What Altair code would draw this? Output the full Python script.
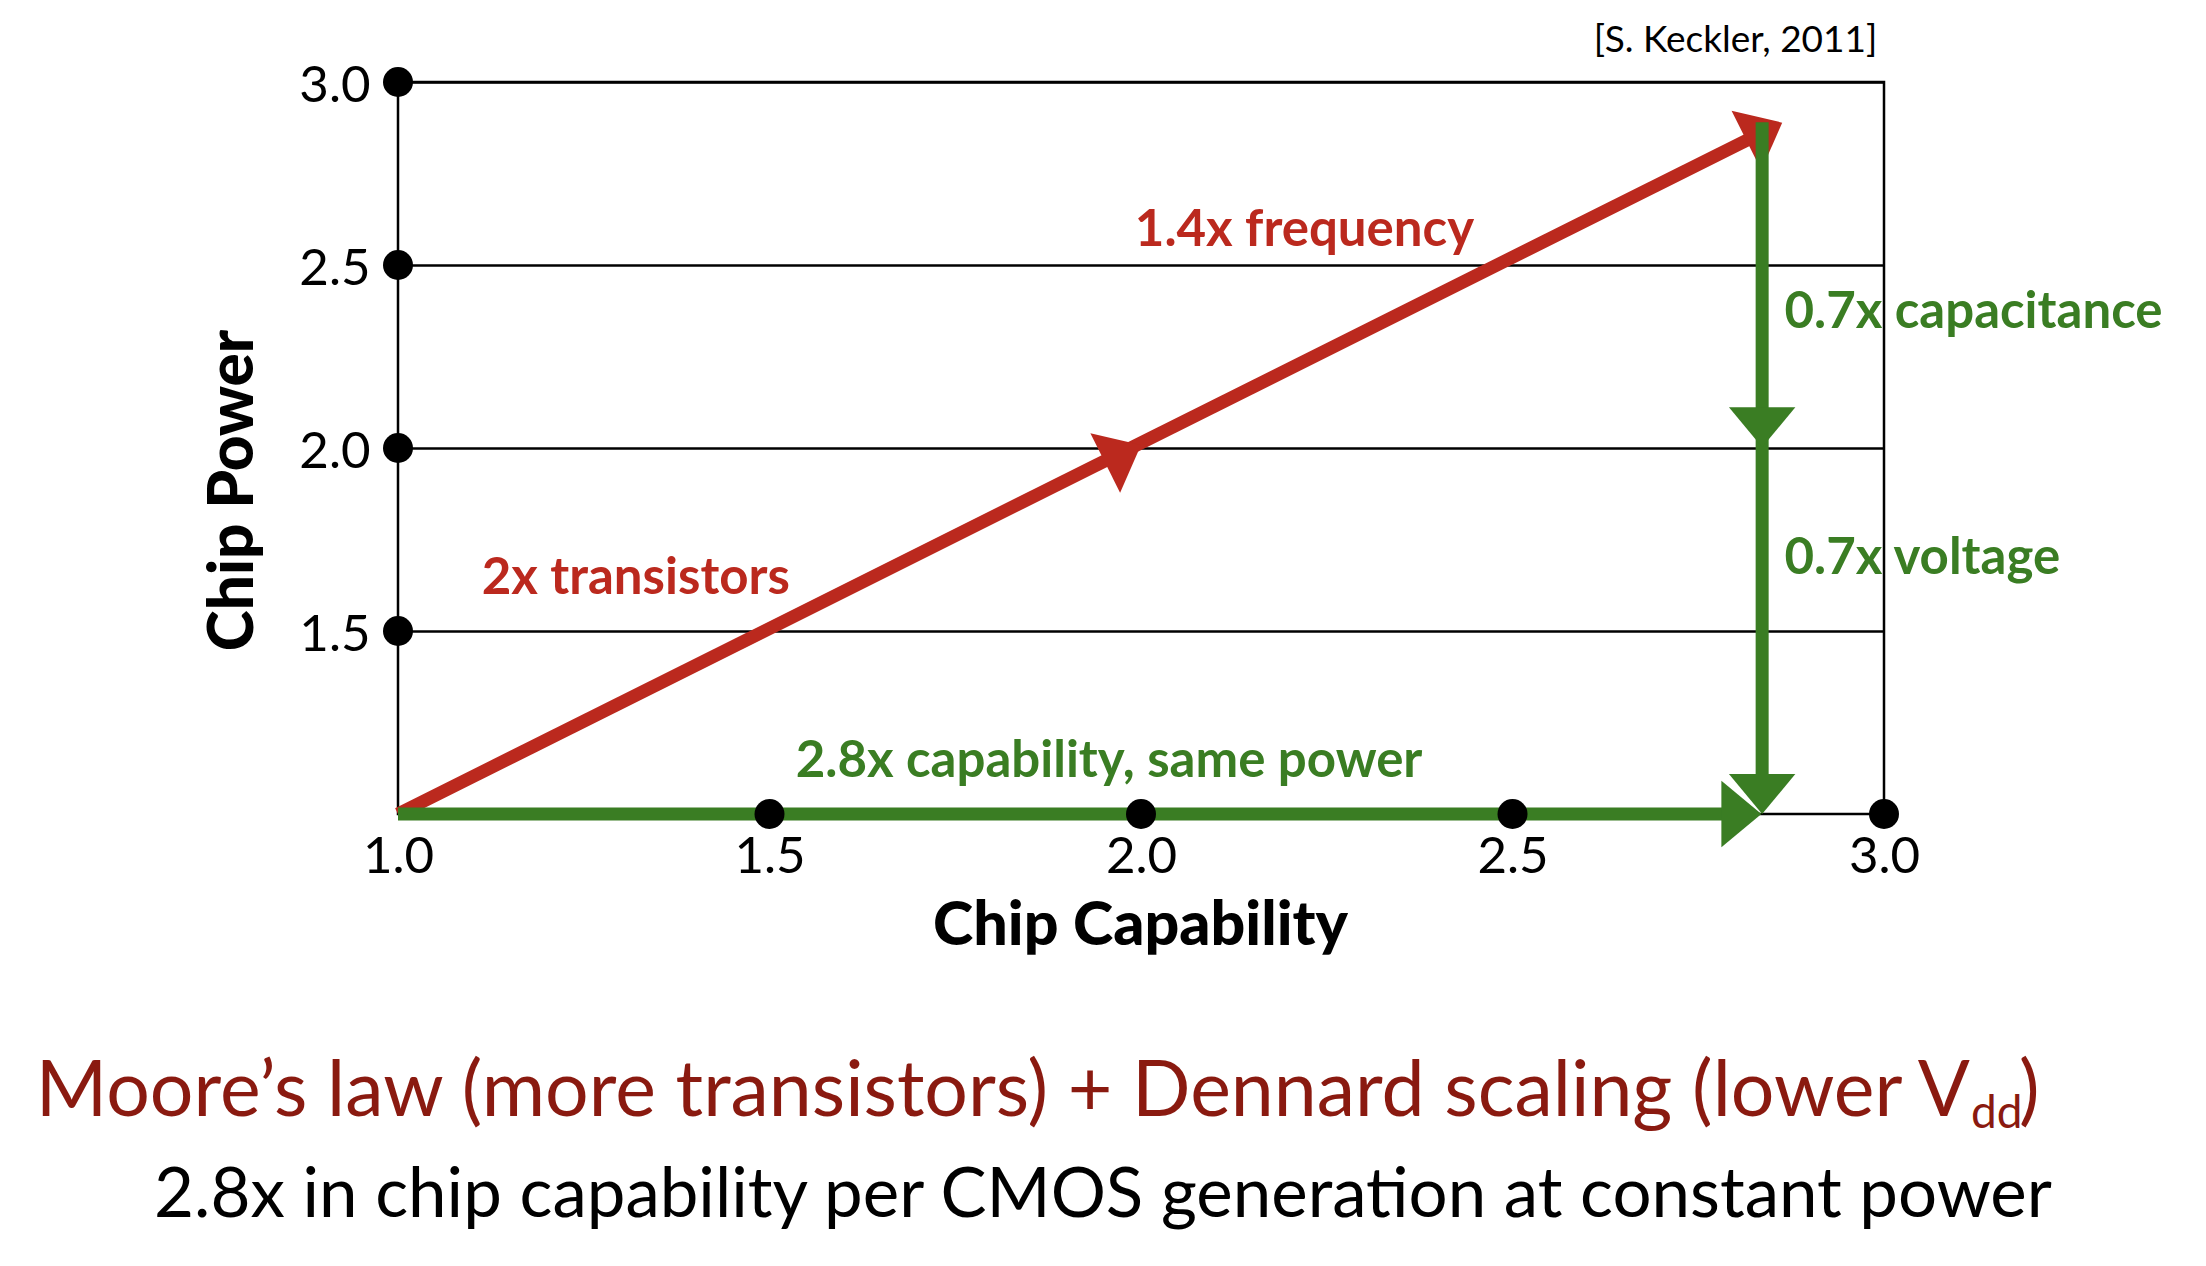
import altair as alt
import pandas as pd

# ---------------- data ----------------
x_tick_values = [1.0, 1.5, 2.0, 2.5, 3.0]
y_tick_values = [1.5, 2.0, 2.5, 3.0]

dot_x = [1.0, 1.0, 1.0, 1.0, 1.5, 2.0, 2.5, 3.0]
dot_y = [1.5, 2.0, 2.5, 3.0, 1.0, 1.0, 1.0, 1.0]

red_line_x = [1.0, 2.845]
red_line_y = [1.0, 2.871]
red_head_x = [2.0, 2.863]
red_head_y = [2.008, 2.889]

green_v_x = [2.836, 2.836]
green_v_y = [2.890, 1.041]
green_h_x = [1.0, 2.815]
green_h_y = [1.0, 1.0]
green_down_x = [2.836, 2.836]
green_down_y = [2.002, 1.0]
green_right_x = [2.835]
green_right_y = [1.0]

center_labels = ["1.4x frequency", "2x transistors", "2.8x capability, same power"]
center_label_x = [2.220, 1.320, 1.957]
center_label_y = [2.551, 1.601, 1.101]
center_label_color = ["red", "red", "green"]

left_labels = ["0.7x capacitance", "0.7x voltage"]
left_label_x = [2.866, 2.866]
left_label_y = [2.327, 1.655]

source_text = ["[S. Keckler, 2011]"]
source_x = [2.991]
source_y = [3.081]

title_main = "Moore\u2019s law (more transistors) + Dennard scaling (lower V"
title_sub = "dd"
title_close = ")"
subtitle = "2.8x in chip capability per CMOS generation at constant power"

# ---------------- style ----------------
RED = "#BB291E"
GREEN = "#3A7D23"
DARKRED = "#8A1A10"
FONT = "Lato"
W, H = 1486, 732
PAD_L, PAD_T = 398, 82
ARROW = "M0,0L-1,-0.83L-1,0.83Z"

xs = alt.Scale(domain=[1, 3], nice=False, zero=False)
ys = alt.Scale(domain=[1, 3], nice=False, zero=False)
color_scale = alt.Scale(domain=["red", "green"], range=[RED, GREEN])

x_axis = alt.Axis(
    values=x_tick_values, format=".1f", grid=False, domain=False, ticks=False,
    tickSize=0, labelFont=FONT, labelFontSize=51, labelColor="black",
    labelPadding=58, labelBaseline="alphabetic", labelFlush=False,
    labelAlign="center", labelOverlap=False,
    title="Chip Capability", titleFont=FONT, titleFontSize=61,
    titleFontWeight=900, titleColor="black", titleX=742, titleY=130,
    titleAlign="center", titleBaseline="alphabetic")
y_axis = alt.Axis(
    values=y_tick_values, format=".1f", grid=True, gridColor="black",
    gridWidth=2.5, gridOpacity=1, domain=False, ticks=False, tickSize=0,
    labelFont=FONT, labelFontSize=51, labelColor="black", labelPadding=28,
    labelBaseline="middle", labelFlush=False, labelOverlap=False, labelOffset=4,
    title="Chip Power", titleFont=FONT, titleFontSize=62,
    titleFontWeight=900, titleColor="black", titleX=-146, titleY=408,
    titleAngle=270, titleAlign="center", titleBaseline="alphabetic")

X = alt.X("x:Q", scale=xs, axis=x_axis)
Y = alt.Y("y:Q", scale=ys, axis=y_axis)

# ---------------- layers ----------------
dots_df = pd.DataFrame({"x": dot_x, "y": dot_y})


def seg(xv, yv, color):
    df = pd.DataFrame({"x": xv, "y": yv, "o": list(range(len(xv)))})
    return alt.Chart(df).mark_line(color=color, strokeWidth=13, strokeCap="butt").encode(
        x=X, y=Y, order="o:O")


def heads(xv, yv, color, angle):
    df = pd.DataFrame({"x": xv, "y": yv})
    return alt.Chart(df).mark_point(
        shape=ARROW, filled=True, opacity=1, color=color, size=6400, angle=angle,
        strokeWidth=0,
    ).encode(x=X, y=Y)


red_line = seg(red_line_x, red_line_y, RED)
red_heads = heads(red_head_x, red_head_y, RED, 333.4)
green_v = seg(green_v_x, green_v_y, GREEN)
green_h = seg(green_h_x, green_h_y, GREEN)
green_right = heads(green_right_x, green_right_y, GREEN, 0)
green_down = heads(green_down_x, green_down_y, GREEN, 90)

dots = alt.Chart(dots_df).mark_circle(color="black", size=900, opacity=1).encode(x=X, y=Y)

center_df = pd.DataFrame({"t": center_labels, "x": center_label_x,
                          "y": center_label_y, "c": center_label_color})
center_text = alt.Chart(center_df).mark_text(
    font=FONT, fontSize=51, fontWeight="bold", align="center", baseline="alphabetic"
).encode(x=X, y=Y, text="t:N",
         color=alt.Color("c:N", scale=color_scale, legend=None))

left_df = pd.DataFrame({"t": left_labels, "x": left_label_x, "y": left_label_y})
left_text = alt.Chart(left_df).mark_text(
    font=FONT, fontSize=51, fontWeight="bold", align="left", baseline="alphabetic",
    color=GREEN,
).encode(x=X, y=Y, text="t:N")

source_df = pd.DataFrame({"t": source_text, "x": source_x, "y": source_y})
source = alt.Chart(source_df).mark_text(
    font=FONT, fontSize=37, align="right", baseline="alphabetic", color="black"
).encode(x=X, y=Y, text="t:N")

title_df = pd.DataFrame({"t": [title_main]})
t_main = alt.Chart(title_df).mark_text(
    font=FONT, fontSize=77, align="right", baseline="alphabetic", color=DARKRED
).encode(x=alt.value(1970 - PAD_L), y=alt.value(1116 - PAD_T), text="t:N")

sub_df = pd.DataFrame({"t": [title_sub]})
t_sub = alt.Chart(sub_df).mark_text(
    font=FONT, fontSize=46, align="left", baseline="alphabetic", color=DARKRED
).encode(x=alt.value(1971 - PAD_L), y=alt.value(1128 - PAD_T), text="t:N")

close_df = pd.DataFrame({"t": [title_close]})
t_close = alt.Chart(close_df).mark_text(
    font=FONT, fontSize=77, align="left", baseline="alphabetic", color=DARKRED
).encode(x=alt.value(2019 - PAD_L), y=alt.value(1116 - PAD_T), text="t:N")

subt_df = pd.DataFrame({"t": [subtitle]})
t_subtitle = alt.Chart(subt_df).mark_text(
    font=FONT, fontSize=69, align="center", baseline="alphabetic", color="black"
).encode(x=alt.value(1103 - PAD_L), y=alt.value(1217 - PAD_T), text="t:N")

chart = alt.layer(
    red_line, red_heads, green_v, green_h, green_right, green_down, dots,
    center_text, left_text, source, t_main, t_sub, t_close, t_subtitle,
).properties(
    width=W, height=H,
    autosize=alt.AutoSizeParams(type="none"),
    padding={"left": PAD_L, "top": PAD_T, "right": 2206 - PAD_L - W,
             "bottom": 1266 - PAD_T - H},
    background="white",
).configure_view(stroke="black", strokeWidth=2.5)

chart.save("out.html", embed_options={"renderer": "svg", "actions": False})
